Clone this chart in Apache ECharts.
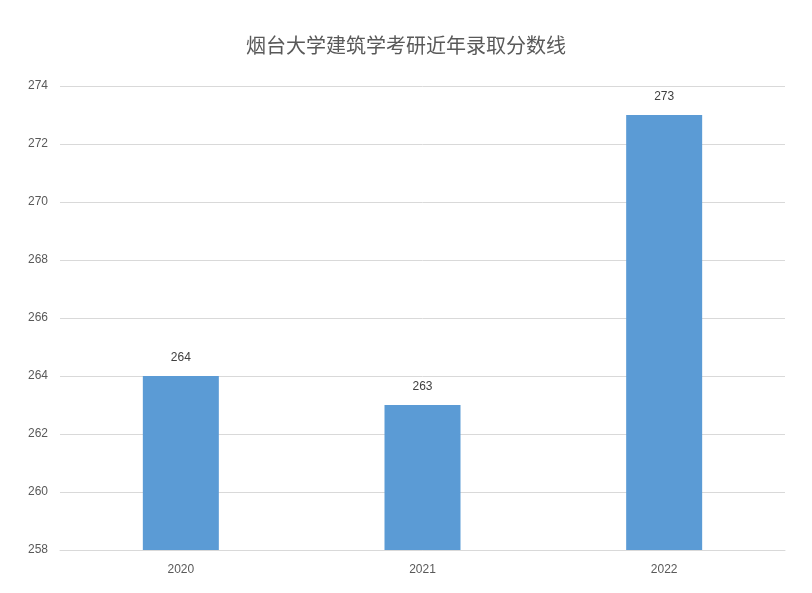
<!DOCTYPE html>
<html><head><meta charset="utf-8">
<script src="https://cdn.jsdelivr.net/npm/echarts@6/dist/echarts.min.js"></script>
<style>html,body{margin:0;padding:0;background:#fff}#c{width:812px;height:593px}</style>
</head><body><div id="c"></div>
<script>
const categories = ['2020', '2021', '2022'];
const scores = [264, 263, 273];
const yTicks = { min: 258, max: 274, interval: 2 };
const chart = echarts.init(document.getElementById('c'));
chart.setOption({
  animation: false,
  title: { text: '烟台大学建筑学考研近年录取分数线', left: 'center', top: 30,
    textStyle: { fontFamily: 'Noto Sans CJK SC', fontWeight: 'normal', fontSize: 20, color: '#595959' } },
  grid: { left: 60, right: 27, top: 86, bottom: 43 },
  xAxis: { type: 'category', data: categories,
    axisLine: { lineStyle: { color: '#d9d9d9' } }, axisTick: { show: false },
    axisLabel: { color: '#595959', fontSize: 12, margin: 14 } },
  yAxis: { type: 'value', min: yTicks.min, max: yTicks.max, interval: yTicks.interval,
    axisLine: { show: false }, axisTick: { show: false },
    splitLine: { lineStyle: { color: '#d9d9d9' } },
    axisLabel: { color: '#595959', fontSize: 12, margin: 12 } },
  series: [{ type: 'bar', data: scores, barWidth: 76,
    itemStyle: { color: '#5b9bd5' },
    label: { show: true, position: 'top', color: '#404040', fontSize: 12, distance: 12 } }]
});
</script></body></html>
